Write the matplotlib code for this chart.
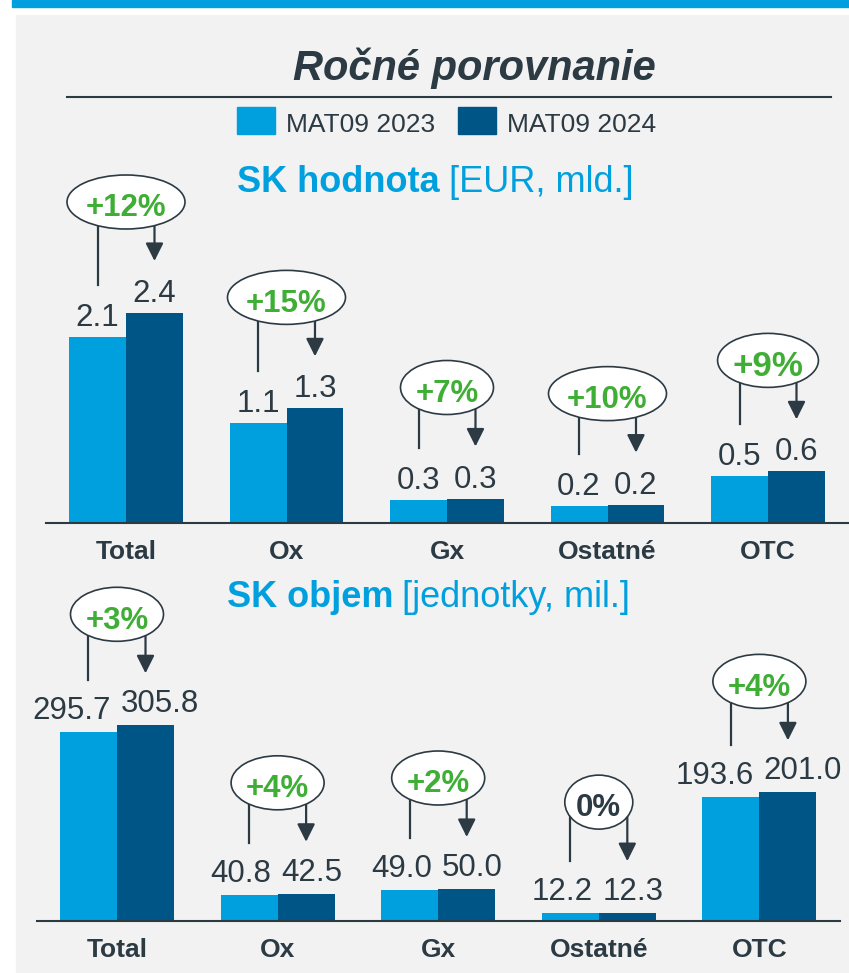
import numpy as np
import matplotlib
matplotlib.use("Agg")
import matplotlib.pyplot as plt
import matplotlib.transforms as mtransforms
from matplotlib.patches import Ellipse, Rectangle, FancyArrowPatch
from matplotlib.lines import Line2D

plt.rcParams['font.family'] = ['Liberation Sans', 'DejaVu Sans']

# data
categories = ["Total", "Ox", "Gx", "Ostatné", "OTC"]
value_2023 = [2.13, 1.14, 0.26, 0.19, 0.54]     # EUR, mld.
value_2024 = [2.40, 1.31, 0.28, 0.21, 0.59]
value_pct = ["+12%", "+15%", "+7%", "+10%", "+9%"]
volume_2023 = [295.7, 40.8, 49.0, 12.2, 193.6]  # jednotky, mil.
volume_2024 = [305.8, 42.5, 50.0, 12.3, 201.0]
volume_pct = ["+3%", "+4%", "+2%", "0%", "+4%"]
series = ["MAT09 2023", "MAT09 2024"]

W, H = 849, 973
LIGHT = '#00a0df'
DARK = '#005587'
INK = '#2c3a44'
GREEN = '#3fae35'
PANEL = '#f2f2f2'

fig = plt.figure(figsize=(W / 100, H / 100), dpi=100)
fig.patch.set_facecolor('white')
# image pixel coords (origin top-left) -> display
pix = mtransforms.Affine2D().scale(1, -1).translate(0, H)


def add_axes_px(left, base, width, height):
    return fig.add_axes([left / W, 1 - base / H, width / W, height / H])


def to_px(ax, x, y):
    d = ax.transData.transform((x, y))
    return d[0], H - d[1]


# frame, title, legend
fig.add_artist(Rectangle((16, 15), W - 16, H - 15, transform=pix, color=PANEL, zorder=-5))
fig.add_artist(Rectangle((12, 0), W - 12, 6.5, transform=pix, color=LIGHT, zorder=-4))
fig.text(474, 80, "Ročné porovnanie", transform=pix, ha='center', va='baseline',
         fontsize=30, weight='bold', style='italic', color=INK)
fig.add_artist(Line2D([67, 831], [96.5, 96.5], transform=pix, color=INK, lw=1.5))

for (sx, tx), name, col in zip([(237, 285.7), (458, 507)], series, [LIGHT, DARK]):
    fig.add_artist(Rectangle((sx, 106.7), 38, 27.6, transform=pix, color=col))
    fig.text(tx, 131.7, name, transform=pix, va='baseline', fontsize=19, color=INK)

renderer = fig.canvas.get_renderer()


def subtitle(x, y, bold, rest):
    t = fig.text(x, y, bold, transform=pix, va='baseline', fontsize=26,
                 weight='bold', color=LIGHT)
    bb = t.get_window_extent(renderer)
    fig.text(bb.x1 + 9, y, rest, transform=pix, va='baseline', fontsize=26, color=LIGHT)


subtitle(237, 192, "SK hodnota", "[EUR, mld.]")
subtitle(227, 607, "SK objem", "[jednotky, mil.]")

ax1 = add_axes_px(45.75, 523, 802.5, 306.25)
ax1.set_ylim(0, 3.5)
ax2 = add_axes_px(36.7, 921, 803, 204.8)
ax2.set_ylim(0, 320)

bw = 0.355
big_badge = {(0, 4): 1.12}


def draw_panel(k, ax, v23, v24, pct, spread):
    x = np.arange(len(categories))
    ax.set_xlim(-0.5, len(categories) - 0.5)
    ax.bar(x - bw / 2, v23, bw, color=LIGHT, zorder=2)
    ax.bar(x + bw / 2, v24, bw, color=DARK, zorder=2)
    ax.set_facecolor('none')
    for s in ['top', 'left', 'right']:
        ax.spines[s].set_visible(False)
    ax.spines['bottom'].set_color(INK)
    ax.spines['bottom'].set_linewidth(1.5)
    ax.spines['bottom'].set_zorder(3)
    ax.set_xticks([])
    ax.set_yticks([])

    for i in x:
        cx, base = to_px(ax, i, 0)
        lx, ltop = to_px(ax, i - bw / 2, v23[i])
        dx, dtop = to_px(ax, i + bw / 2, v24[i])

        fig.text(cx, base + 36, categories[i], transform=pix, ha='center', va='baseline',
                 fontsize=19, weight='bold', color=INK)

        if spread:
            fig.text(cx - 6, ltop - 13, f"{v23[i]:.1f}", transform=pix, ha='right',
                     va='baseline', fontsize=22.5, color=INK)
            fig.text(cx + 4, dtop - 13, f"{v24[i]:.1f}", transform=pix, ha='left',
                     va='baseline', fontsize=22.5, color=INK)
        else:
            fig.text(lx, ltop - 11, f"{v23[i]:.1f}", transform=pix, ha='center',
                     va='baseline', fontsize=22.5, color=INK)
            fig.text(dx, dtop - 11, f"{v24[i]:.1f}", transform=pix, ha='center',
                     va='baseline', fontsize=22.5, color=INK)

        # change badge with connectors
        z = big_badge.get((k, i), 1.0)
        ey = dtop - 111
        w = (25 * len(pct[i]) + 18) * (1 + (z - 1) * 0.7)
        fig.add_artist(Ellipse((cx, ey), w, 54, transform=pix, fc='white', ec=INK,
                               lw=1.2, zorder=6))
        fig.add_artist(Line2D([lx, lx], [ey, ltop - 52], transform=pix, color=INK,
                              lw=1.6, zorder=5))
        fig.add_artist(FancyArrowPatch((dx, ey), (dx, dtop - 52), transform=pix,
                                       arrowstyle='-|>,head_length=1.0,head_width=0.5',
                                       mutation_scale=10.8, color=INK, lw=1.6,
                                       shrinkA=0, shrinkB=0, zorder=5))
        fs = 22.5 * z
        cap = 0.72 * fs * 100 / 72
        fig.text(cx, ey + cap / 2 + 3, pct[i], transform=pix, ha='center', va='baseline',
                 fontsize=fs, weight='bold',
                 color=INK if pct[i] == "0%" else GREEN, zorder=7)


draw_panel(0, ax1, value_2023, value_2024, value_pct, False)
draw_panel(1, ax2, volume_2023, volume_2024, volume_pct, True)

fig.savefig("out.png", dpi=100)
